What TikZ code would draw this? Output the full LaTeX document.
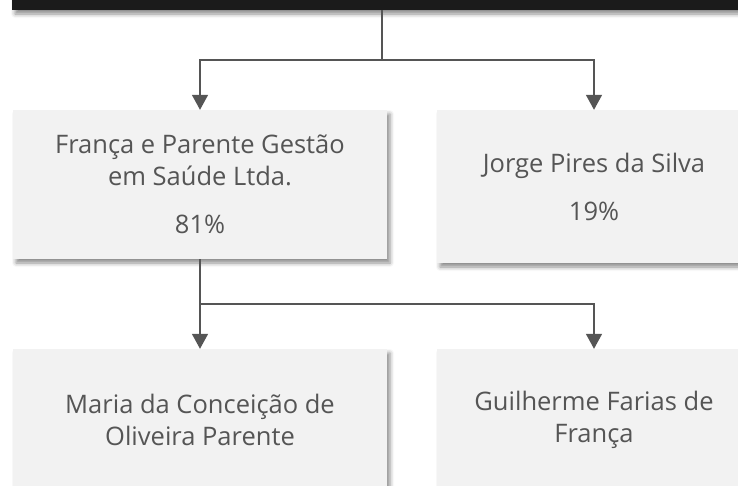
\documentclass[tikz,border=0pt]{standalone}
\usepackage{fontspec}
\setmainfont{Open Sans}
\usetikzlibrary{arrows.meta,shadows.blur}

\definecolor{bargray}{HTML}{1B1B1B}
\definecolor{boxgray}{HTML}{F2F2F2}
\definecolor{linegray}{HTML}{555555}
\definecolor{txtgray}{HTML}{555555}

\begin{document}
\begin{tikzpicture}[x=1pt,y=-1pt,
		shade/.style={blur shadow={shadow xshift=3pt, shadow yshift=-4pt, shadow blur radius=4pt, shadow opacity=45}},
		box/.style={shade, fill=boxgray, text=txtgray, align=center, inner sep=0pt,
			font=\fontsize{25.5}{32}\selectfont},
		line/.style={draw=linegray, line width=1.6pt},
		arrow/.style={line, -{Triangle[width=16pt,length=15pt]}}]
			\useasboundingbox (0,0) rectangle (738,485);
			\node[shade, fill=bargray, minimum width=740pt, minimum height=40pt, inner sep=0pt] (top) at (382,-10) {};
			\node[box, minimum width=374pt, minimum height=149pt] (parente) at (200,184.5) {França e Parente Gestão\\em Saúde Ltda.\\[16pt]81\%};
			\node[box, minimum width=314pt, minimum height=153pt] (jorge) at (594,186.5) {Jorge Pires da Silva\\[16pt]19\%};
			\node[box, minimum width=374pt, minimum height=142pt] (maria) at (200,420) {Maria da Conceição de\\Oliveira Parente};
			\node[box, minimum width=314pt, minimum height=142pt] (guilherme) at (594,420) {Guilherme Farias de\\França};
			\coordinate (split1) at (382,60);
			\coordinate (split2) at (parente.south |- 0,304);
			\draw[line] (top.south -| split1) -- (split1);
			\draw[arrow] (split1) -| (parente.north);
			\draw[arrow] (split1) -| (jorge.north);
			\draw[line] (parente.south) -- (split2);
			\draw[arrow] (split2) -- (maria.north);
			\draw[arrow] (split2) -| (guilherme.north);
		\end{tikzpicture}
\end{document}
